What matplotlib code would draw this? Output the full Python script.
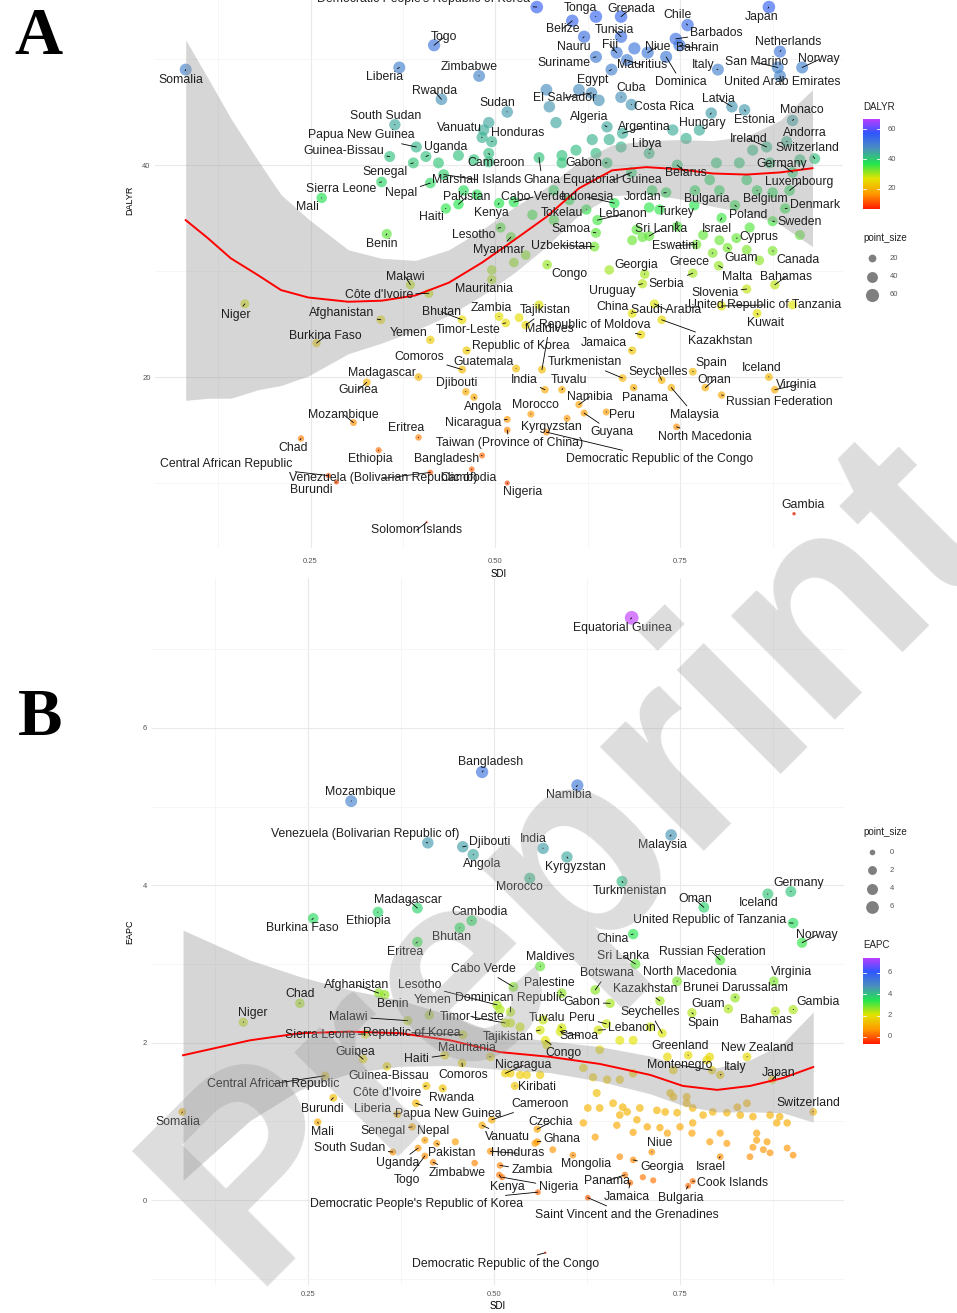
import numpy as np
import matplotlib
matplotlib.use("Agg")
import matplotlib.pyplot as plt
from matplotlib.colors import LinearSegmentedColormap, Normalize

plt.rcParams['font.family'] = ['Liberation Sans', 'DejaVu Sans']

W, H = 957, 1313

# ---------------- panel A: DALYR vs SDI ----------------
A_NAMES = [
    "Somalia", "Togo", "Liberia", "Zimbabwe", "Rwanda", "Sudan", "South Sudan", "Vanuatu", "Honduras", "Papua New Guinea",
    "Uganda", "Guinea-Bissau", "Senegal", "Cameroon", "Marshall Islands", "Nepal", "Sierra Leone", "Mali", "Pakistan", "Haiti",
    "Benin", "Kenya", "Lesotho", "Myanmar", "Malawi", "Côte d'Ivoire", "Niger", "Afghanistan", "Burkina Faso", "Bhutan",
    "Yemen", "Zambia", "Timor-Leste", "Mauritania", "Republic of Korea", "Comoros", "Guatemala", "Madagascar", "Guinea", "Djibouti",
    "Angola", "Mozambique", "Eritrea", "Nicaragua", "Taiwan (Province of China)", "Chad", "Ethiopia", "Bangladesh",
    "Central African Republic", "Venezuela (Bolivarian Republic of)",
    "Cambodia", "Burundi", "Solomon Islands", "Nigeria", "Gambia", "Congo", "Georgia", "Uruguay", "Serbia", "Greece",
    "Malta", "Bahamas", "Slovenia", "China", "Saudi Arabia", "United Republic of Tanzania", "Kuwait", "Republic of Moldova",
    "Kazakhstan", "Tajikistan",
    "Maldives", "Jamaica", "Turkmenistan", "India", "Tuvalu", "Namibia", "Morocco", "Panama", "Seychelles", "Malaysia",
    "Spain", "Oman", "Iceland", "Virginia", "Russian Federation", "Peru", "Guyana", "Kyrgyzstan", "North Macedonia",
    "Democratic Republic of the Congo",
    "Democratic People's Republic of Korea", "Tonga", "Grenada", "Chile", "Japan", "Belize", "Tunisia", "Barbados", "Bahrain", "Nauru",
    "Fiji", "Niue", "Netherlands", "Suriname", "Egypt", "Mauritius", "Dominica", "Italy", "San Marino", "Norway",
    "United Arab Emirates", "Cuba", "El Salvador", "Costa Rica", "Latvia", "Estonia", "Monaco", "Hungary", "Algeria", "Argentina",
    "Andorra", "Ireland", "Switzerland", "Libya", "Gabon", "Germany", "Belarus", "Ghana", "Equatorial Guinea", "Luxembourg",
    "Cabo Verde", "Indonesia", "Jordan", "Bulgaria", "Belgium", "Denmark", "Poland", "Sweden", "Tokelau", "Lebanon",
    "Turkey", "Samoa", "Sri Lanka", "Israel", "Cyprus", "Eswatini", "Uzbekistan", "Guam", "Canada",
]
A_SDI = [
    0.081, 0.417, 0.370, 0.478, 0.427, 0.516, 0.364, 0.482, 0.495, 0.393,
    0.406, 0.357, 0.389, 0.491, 0.430, 0.412, 0.346, 0.265, 0.450, 0.433,
    0.353, 0.505, 0.507, 0.521, 0.385, 0.410, 0.161, 0.345, 0.258, 0.455,
    0.412, 0.505, 0.514, 0.495, 0.461, 0.455, 0.528, 0.396, 0.326, 0.460,
    0.471, 0.308, 0.396, 0.516, 0.516, 0.237, 0.342, 0.482, 0.274, 0.412,
    0.468, 0.285, 0.407, 0.516, 0.904, 0.570, 0.702, 0.699, 0.767, 0.794,
    0.802, 0.878, 0.840, 0.685, 0.715, 0.806, 0.854, 0.697, 0.725, 0.541,
    0.563, 0.685, 0.672, 0.567, 0.590, 0.613, 0.548, 0.687, 0.725, 0.738,
    0.767, 0.784, 0.870, 0.878, 0.806, 0.650, 0.620, 0.597, 0.745, 0.569,
    0.556, 0.636, 0.670, 0.760, 0.870, 0.604, 0.670, 0.744, 0.749, 0.620,
    0.664, 0.706, 0.885, 0.636, 0.657, 0.678, 0.731, 0.801, 0.882, 0.915,
    0.885, 0.670, 0.630, 0.684, 0.820, 0.837, 0.902, 0.792, 0.651, 0.672,
    0.894, 0.867, 0.932, 0.708, 0.651, 0.902, 0.746, 0.559, 0.684, 0.898,
    0.525, 0.661, 0.731, 0.770, 0.854, 0.892, 0.824, 0.875, 0.623, 0.638,
    0.746, 0.636, 0.708, 0.806, 0.826, 0.772, 0.634, 0.814, 0.875,
]
A_DALYR = [
    49.0, 51.3, 49.2, 48.4, 46.2, 45.0, 43.8, 42.6, 42.2, 41.7,
    40.8, 40.8, 40.2, 41.1, 39.1, 38.3, 38.4, 36.9, 36.3, 35.9,
    33.5, 36.4, 34.1, 33.2, 28.7, 27.9, 26.9, 25.4, 23.2, 25.4,
    23.5, 25.7, 25.1, 29.2, 22.5, 20.7, 20.8, 20.0, 19.5, 18.6,
    18.1, 15.7, 14.3, 16.0, 15.0, 14.2, 13.1, 12.6, 10.7, 11.0,
    11.3, 10.1, 6.3, 10.0, 7.1, 30.6, 29.7, 28.8, 29.8, 31.7,
    30.5, 28.7, 28.3, 26.0, 26.9, 26.7, 26.0, 24.0, 25.4, 24.9,
    20.7, 22.5, 19.9, 18.8, 18.8, 17.4, 16.5, 19.0, 19.7, 19.0,
    20.5, 19.0, 20.0, 18.8, 18.3, 16.7, 16.6, 16.1, 15.3, 14.8,
    54.9, 54.0, 54.0, 53.2, 54.9, 53.6, 52.1, 51.9, 51.3, 52.1,
    50.6, 50.6, 50.7, 50.2, 49.0, 49.9, 50.2, 49.0, 49.2, 49.2,
    48.4, 46.4, 46.8, 45.7, 45.5, 45.2, 44.2, 44.9, 43.6, 43.0,
    42.2, 41.7, 40.6, 41.1, 40.2, 39.3, 40.0, 40.7, 39.3, 37.6,
    36.5, 36.4, 37.4, 37.6, 37.6, 35.9, 36.2, 34.7, 35.8, 34.8,
    34.2, 33.6, 33.3, 35.0, 33.1, 32.5, 32.3, 32.2, 31.9,
]
# unlabelled countries
A_OTHER_SDI = [
    0.491, 0.484, 0.573, 0.582, 0.569, 0.613, 0.640, 0.688, 0.902, 0.590,
    0.609, 0.631, 0.636, 0.590, 0.654, 0.670, 0.740, 0.758, 0.776, 0.799,
    0.830, 0.848, 0.871, 0.912, 0.790, 0.803, 0.840, 0.875, 0.708, 0.722,
    0.691, 0.699, 0.685, 0.803, 0.840, 0.495, 0.541, 0.525, 0.532, 0.559,
    0.450, 0.471, 0.491, 0.423, 0.457, 0.475, 0.579, 0.600, 0.550, 0.579,
    0.712, 0.769, 0.781, 0.844, 0.912, 0.857, 0.654,
]
A_OTHER_DALYR = [
    44.0, 43.3, 45.5, 44.0, 47.1, 47.1, 46.1, 51.0, 26.8, 40.9,
    41.4, 42.4, 41.1, 40.2, 42.4, 41.7, 43.3, 42.5, 43.3, 40.2,
    40.2, 41.4, 40.2, 40.5, 38.6, 37.6, 38.6, 37.4, 36.0, 35.8,
    33.9, 33.2, 32.9, 32.9, 32.0, 30.1, 31.5, 30.8, 25.6, 26.8,
    40.9, 40.5, 40.3, 40.2, 37.6, 37.2, 37.6, 36.7, 35.3, 34.8,
    37.6, 36.2, 33.4, 34.1, 33.4, 31.0, 30.1,
]
# loess fit
A_FIT_SDI = [0.081, 0.111, 0.142, 0.179, 0.210, 0.247, 0.301, 0.346, 0.392, 0.437, 0.482,
             0.525, 0.569, 0.613, 0.658, 0.704, 0.749, 0.794, 0.840, 0.885, 0.929]
A_FIT = [34.8, 33.1, 31.2, 29.6, 28.2, 27.5, 27.1, 27.2, 27.7, 28.9, 30.8,
         32.9, 35.1, 37.8, 39.5, 39.8, 39.6, 39.2, 39.1, 39.3, 39.7]
A_FIT_LO = [17.8, 18.0, 18.0, 18.8, 19.2, 20.1, 22.2, 23.2, 24.4, 25.8, 27.7,
            29.8, 32.3, 35.3, 37.1, 37.3, 36.8, 36.1, 35.5, 34.4, 32.3]
A_FIT_HI = [51.8, 48.2, 44.4, 40.4, 37.2, 34.9, 32.0, 31.2, 31.0, 32.0, 33.9,
            36.0, 37.9, 40.3, 41.9, 42.3, 42.4, 42.3, 42.7, 44.2, 47.1]

# ---------------- panel B: EAPC vs SDI ----------------
B_NAMES = [
    "Equatorial Guinea", "Bangladesh", "Mozambique", "Namibia", "Venezuela (Bolivarian Republic of)", "Djibouti", "Angola",
    "India", "Kyrgyzstan", "Malaysia",
    "Morocco", "Turkmenistan", "Madagascar", "Ethiopia", "Burkina Faso", "Cambodia", "Bhutan", "Eritrea", "Oman", "Iceland",
    "Germany", "United Republic of Tanzania", "Norway", "China", "Maldives", "Sri Lanka", "Russian Federation", "Cabo Verde",
    "North Macedonia", "Virginia",
    "Botswana", "Palestine", "Kazakhstan", "Brunei Darussalam", "Gambia", "Lesotho", "Dominican Republic", "Gabon", "Guam", "Seychelles",
    "Spain", "Bahamas", "Tuvalu", "Peru", "Lebanon", "Samoa", "Tajikistan", "Congo", "Greenland", "New Zealand",
    "Montenegro", "Italy", "Japan", "Switzerland", "Nicaragua", "Kiribati", "Cameroon", "Vanuatu", "Czechia", "Ghana",
    "Niue", "Mongolia", "Georgia", "Israel", "Panama", "Cook Islands", "Jamaica", "Bulgaria", "Saint Vincent and the Grenadines",
    "Democratic Republic of the Congo",
    "Zambia", "Nigeria", "Kenya", "Democratic People's Republic of Korea", "Honduras", "Uganda", "Togo", "Zimbabwe", "Pakistan", "Nepal",
    "Senegal", "Mali", "South Sudan", "Burundi", "Liberia", "Papua New Guinea", "Côte d'Ivoire", "Rwanda", "Guinea-Bissau", "Comoros",
    "Haiti", "Mauritania", "Guinea", "Central African Republic", "Somalia", "Niger", "Chad", "Afghanistan", "Benin", "Yemen",
    "Timor-Leste", "Malawi", "Sierra Leone", "Republic of Korea",
]
B_SDI = [
    0.685, 0.484, 0.308, 0.612, 0.411, 0.458, 0.472, 0.566, 0.598, 0.738,
    0.548, 0.672, 0.397, 0.344, 0.257, 0.470, 0.454, 0.397, 0.782, 0.868,
    0.899, 0.902, 0.914, 0.687, 0.562, 0.690, 0.804, 0.526, 0.746, 0.876,
    0.636, 0.591, 0.723, 0.824, 0.902, 0.504, 0.522, 0.656, 0.815, 0.726,
    0.766, 0.878, 0.591, 0.651, 0.640, 0.589, 0.562, 0.569, 0.761, 0.840,
    0.793, 0.804, 0.874, 0.929, 0.515, 0.528, 0.497, 0.484, 0.558, 0.558,
    0.712, 0.606, 0.687, 0.804, 0.676, 0.767, 0.683, 0.761, 0.626, 0.569,
    0.508, 0.511, 0.507, 0.559, 0.495, 0.398, 0.407, 0.418, 0.423, 0.407,
    0.390, 0.263, 0.364, 0.284, 0.370, 0.395, 0.409, 0.431, 0.356, 0.457,
    0.434, 0.495, 0.324, 0.273, 0.081, 0.163, 0.239, 0.345, 0.353, 0.413,
    0.515, 0.384, 0.327, 0.458,
]
B_EAPC = [
    7.40, 5.44, 5.07, 5.27, 4.54, 4.49, 4.39, 4.47, 4.36, 4.64,
    4.09, 4.05, 3.71, 3.66, 3.58, 3.55, 3.46, 3.28, 3.72, 3.89,
    3.92, 3.52, 3.27, 3.38, 2.97, 3.00, 3.05, 2.71, 2.78, 2.78,
    2.67, 2.63, 2.53, 2.57, 2.42, 2.48, 2.39, 2.50, 2.43, 2.12,
    2.38, 2.40, 2.19, 2.24, 2.16, 2.14, 2.16, 2.03, 1.84, 1.82,
    1.65, 1.59, 1.53, 1.12, 1.61, 1.45, 1.02, 0.95, 0.90, 0.74,
    0.61, 0.57, 0.51, 0.55, 0.32, 0.24, 0.22, 0.18, 0.03, -0.67,
    0.44, 0.29, 0.32, 0.10, 0.62, 0.66, 0.56, 0.48, 0.72, 0.76,
    0.93, 0.99, 0.61, 1.30, 1.09, 1.23, 1.45, 1.42, 1.70, 1.74,
    1.84, 1.82, 1.79, 1.58, 1.12, 2.26, 2.50, 2.63, 2.61, 2.35,
    2.25, 2.28, 2.11, 2.10,
]
B_OTHER_SDI = [
    0.638, 0.626, 0.642, 0.660, 0.673, 0.679, 0.669, 0.696, 0.719, 0.730,
    0.746, 0.620, 0.665, 0.692, 0.706, 0.723, 0.687, 0.733, 0.750, 0.767,
    0.781, 0.794, 0.813, 0.831, 0.848, 0.871, 0.884, 0.894, 0.880, 0.853,
    0.804, 0.813, 0.790, 0.853, 0.867, 0.848, 0.862, 0.871, 0.894, 0.902,
    0.844, 0.636, 0.579, 0.669, 0.700, 0.714, 0.766, 0.767, 0.741, 0.759,
    0.840, 0.827,
    0.522, 0.535, 0.562, 0.620, 0.633, 0.652, 0.669, 0.687, 0.642, 0.669,
    0.687, 0.710, 0.741, 0.733, 0.790, 0.737, 0.759, 0.786, 0.522, 0.535,
    0.508, 0.544, 0.571, 0.566, 0.448, 0.474, 0.555,
]
B_OTHER_EAPC = [
    1.36, 1.17, 1.17, 1.23, 1.18, 1.12, 1.08, 1.17, 1.14, 1.12,
    1.11, 0.98, 0.95, 1.02, 0.93, 0.92, 0.86, 0.85, 0.93, 0.98,
    1.08, 1.12, 1.11, 1.08, 1.06, 1.08, 1.06, 0.98, 0.98, 0.85,
    0.85, 0.72, 0.74, 0.76, 0.74, 0.67, 0.64, 0.60, 0.66, 0.57,
    0.55, 0.80, 0.64, 0.55, 0.29, 0.25, 0.85, 1.17, 1.31, 1.23,
    1.23, 1.18,
    1.61, 1.59, 1.59, 1.68, 1.56, 1.53, 1.53, 1.61, 1.91, 2.03,
    2.03, 2.20, 1.65, 1.82, 1.82, 1.36, 1.31, 1.78, 2.25, 2.20,
    2.42, 1.59, 1.97, 2.29, 0.74, 0.47, 0.72,
]
B_FIT_SDI = [0.082, 0.172, 0.239, 0.306, 0.374, 0.441, 0.508, 0.575, 0.642, 0.710,
             0.754, 0.800, 0.844, 0.888, 0.929]
B_FIT = [1.84, 2.03, 2.12, 2.14, 2.12, 2.03, 1.88, 1.82, 1.73, 1.59, 1.45, 1.40, 1.45, 1.55, 1.69]
B_FIT_LO = [0.25, 1.01, 1.40, 1.61, 1.70, 1.71, 1.66, 1.62, 1.51, 1.35, 1.20, 1.12, 1.12, 1.11, 0.99]
B_FIT_HI = [3.43, 3.05, 2.84, 2.67, 2.54, 2.35, 2.10, 2.02, 1.95, 1.83, 1.70, 1.68, 1.78, 1.99, 2.39]

# label placement (pixel offset of label centre from its point, y downwards)
A_LABEL_POS = [
    (-5, 10), (10, -8), (-15, 10), (-10, -9), (-7, -8), (-10, -9), (-9, -9), (-23, -9), (26, -9), (-55, -12),
    (20, -10), (-46, -6), (-28, 9), (7, 10), (33, 5), (-29, 10), (-40, 7), (-14, 9), (8, -7), (-14, 9),
    (-5, 10), (-8, 10), (-27, 7), (-12, 13), (-5, -8), (-50, 2), (-9, 11), (-39, -7), (9, -7), (-21, -8),
    (-22, -7), (-8, -9), (-38, 7), (-8, 10), (54, -5), (-43, -13), (-33, -7), (-37, -4), (-9, 8), (-9, -9),
    (9, 10), (-10, -8), (-12, -9), (-34, 4), (2, 13), (-8, 10), (-8, 9), (-36, 4), (-102, -12), (-47, 6),
    (-3, 9), (-25, 8), (-10, 8), (15, 9), (9, -9), (22, 9), (-8, -9), (-30, 7), (-26, 11), (-23, 9),
    (19, 11), (11, -8), (-32, 4), (-20, -6), (12, 6), (43, -1), (8, 10), (-46, -10), (58, 21), (20, -15),
    (7, -41), (-28, -8), (-38, -16), (-21, -10), (7, -10), (11, -8), (5, -9), (11, 10), (-4, -8), (23, 27),
    (19, -9), (9, -8), (-7, -9), (22, -5), (58, 7), (16, 3), (28, 19), (-16, 9), (28, 10), (113, 27),
    (-113, -8), (-15, -9), (10, -8), (-10, -10), (-7, 10), (-10, 8), (-7, -7), (41, -6), (18, 3), (-10, 10),
    (-7, -8), (10, -6), (8, -10), (-32, 6), (-19, 10), (15, 5), (15, 25), (-15, -5), (-21, -5), (17, -8),
    (2, 6), (10, -9), (-27, 5), (33, 2), (-13, -8), (10, 10), (9, -10), (-9, 10), (-18, -10), (22, -6),
    (18, -9), (-18, -8), (-7, -11), (-2, -9), (-23, 0), (-11, -8), (9, 8), (3, 22), (-19, 8), (10, -8),
    (19, -5), (-27, -6), (-24, 4), (12, 9), (8, 9), (30, -3), (13, 10), (27, 1), (-24, 3), (25, -6),
    (-1, -14), (-25, -4), (12, -7), (-5, 11), (23, -1), (-21, 1), (-33, -1), (14, 10), (25, 9),
]
B_LABEL_POS = [
    (-9, 10), (8, -10), (9, -9), (-9, 10), (-63, -9), (27, -5), (9, 9), (-10, -9), (8, 10), (-9, 10),
    (-10, 9), (8, 10), (-9, -8), (-10, 9), (-11, 10), (8, -9), (-8, 9), (-12, 10), (-9, -8), (-9, 9),
    (8, -9), (-83, -3), (15, -8), (-21, 5), (10, -9), (-12, -8), (-8, -8), (-30, -18), (13, -9), (18, -9),
    (12, -17), (-12, -10), (-15, -12), (0, -10), (25, -8), (-77, -20), (0, -14), (-28, -1), (-20, -5), (-12, -21),
    (11, 10), (-9, 9), (-15, -10), (-24, -6), (34, -2), (19, 4), (-32, 7), (18, 13), (-8, -9), (10, -9),
    (-32, -5), (15, -8), (6, -7), (-5, -9), (18, -8), (22, 1), (48, -16), (25, 12), (13, -7), (25, -3),
    (8, -9), (13, 9), (29, 7), (-9, 10), (-18, 6), (40, 2), (-3, 14), (-7, 12), (39, 17), (-40, 11),
    (32, 5), (56, 10), (8, 12), (-121, 12), (27, 2), (-20, 15), (-18, 24), (24, 11), (15, 10), (8, -9),
    (-29, 4), (5, 10), (-43, -4), (-11, 11), (-25, -5), (32, 11), (-39, 7), (9, 10), (2, 10), (1, 12),
    (-28, 4), (-23, -9), (-8, -7), (-52, 8), (-4, 10), (9, -9), (0, -9), (-22, -8), (8, 9), (3, -15),
    (-33, -6), (-59, -4), (-45, 1), (-51, -2),
]

CMAP = LinearSegmentedColormap.from_list(
    "rainbowish", ["#ff1a00", "#ff9a00", "#e4e400", "#22e650", "#4a8fbd", "#3057ff", "#c43cff"])
A_RANGE = (6.3, 66.7)
B_RANGE = (-0.67, 7.45)


def point_area(v, vmin, vmax):
    frac = np.clip((np.asarray(v, float) - vmin) / (vmax - vmin), 0, 1)
    d_px = 2.3 * (1 + 5 * np.sqrt(frac))
    return (d_px * 0.72) ** 2


def draw_panel(ax, names, xs, ys, label_pos, ox, oy, fx, fit, lo, hi, vrange,
               ylim, ymajor, ygrid, yminor, ylabel, xlab_y, ylab_x, xpad):
    ax.set_xlim(0.04, 0.97)
    ax.set_ylim(*ylim)
    for s in ax.spines.values():
        s.set_visible(False)
    for v in [0.125, 0.375, 0.625, 0.875]:
        ax.axvline(v, color="#f3f3f3", lw=0.5, zorder=0)
    for v in [0.25, 0.5, 0.75]:
        ax.axvline(v, color="#e9e9e9", lw=0.8, zorder=0)
    for v in yminor:
        ax.axhline(v, color="#f3f3f3", lw=0.5, zorder=0)
    for v in ygrid:
        ax.axhline(v, color="#e9e9e9", lw=0.8, zorder=0)
    ax.set_xticks([0.25, 0.5, 0.75])
    ax.set_xticklabels(["0.25", "0.50", "0.75"])
    ax.set_yticks(ymajor)
    ax.set_yticklabels([str(v) for v in ymajor])
    ax.tick_params(axis="both", length=0, labelsize=5.5, labelcolor="#555555")
    ax.tick_params(axis="x", pad=xpad)
    ax.tick_params(axis="y", pad=3.5)

    all_x = np.r_[ox, xs]
    all_y = np.r_[oy, ys]
    ax.scatter(all_x, all_y, s=point_area(all_y, *vrange), c=all_y, cmap=CMAP,
               norm=Normalize(*vrange), alpha=0.65, linewidths=0, zorder=2)
    ax.fill_between(fx, lo, hi, color="#999999", alpha=0.4, lw=0, zorder=3)
    ax.plot(fx, fit, color="red", lw=1.4, zorder=4)

    for name, x, y, (dx, dy) in zip(names, xs, ys, label_pos):
        ax.annotate(name, (x, y), xytext=(dx * 0.72, -dy * 0.72), textcoords="offset points",
                    ha="center", va="center", fontsize=8.8, color="#1e1e1e", zorder=5,
                    annotation_clip=False,
                    arrowprops=dict(arrowstyle="-", color="black", lw=0.6, shrinkA=0, shrinkB=0))

    ax.set_xlabel("SDI", fontsize=7)
    ax.xaxis.set_label_coords(0.5, xlab_y)
    ax.xaxis.label.set_va("center")
    ax.set_ylabel(ylabel, fontsize=6.5)
    ax.yaxis.set_label_coords(ylab_x, 0.5)
    ax.yaxis.label.set_va("center")


fig = plt.figure(figsize=(W / 100, H / 100), dpi=100)

# panel A (top of the panel runs past the top edge of the figure)
axA = fig.add_axes([155.4 / W, 1 - 548 / H, 687.4 / W, 695.7 / H])
draw_panel(axA, A_NAMES, A_SDI, A_DALYR, A_LABEL_POS, A_OTHER_SDI, A_OTHER_DALYR,
           A_FIT_SDI, A_FIT, A_FIT_LO, A_FIT_HI, A_RANGE,
           (3.87, 69.5), [20, 40], [20, 40, 60], [10, 30, 50], "DALYR",
           (548 - 574) / 695.7, (130 - 155.4) / 687.4, 7)

axB = fig.add_axes([151.8 / W, 1 - 1285 / H, 691.9 / W, 707 / H])
draw_panel(axB, B_NAMES, B_SDI, B_EAPC, B_LABEL_POS, B_OTHER_SDI, B_OTHER_EAPC,
           B_FIT_SDI, B_FIT, B_FIT_LO, B_FIT_HI, B_RANGE,
           (-1.08, 7.906), [0, 2, 4, 6], [0, 2, 4, 6], [-1, 1, 3, 5, 7], "EAPC",
           (1285 - 1306) / 707, (130 - 151.8) / 691.9, 4.5)

# legends drawn in pixel coordinates
lg = fig.add_axes([0, 0, 1, 1])
lg.set_xlim(0, W)
lg.set_ylim(H, 0)
lg.set_axis_off()
lg.patch.set_alpha(0)


def colorbar(top, bottom, vrange, ticks, title):
    cax = fig.add_axes([863 / W, 1 - bottom / H, 17 / W, (bottom - top) / H])
    grad = np.linspace(vrange[0], vrange[1], 256).reshape(-1, 1)
    cax.imshow(grad, aspect="auto", cmap=CMAP, norm=Normalize(*vrange), origin="lower",
               extent=(0, 1, vrange[0], vrange[1]))
    cax.set_axis_off()
    for t in ticks:
        cax.plot([0, 0.2], [t, t], color="white", lw=0.6)
        cax.plot([0.8, 1], [t, t], color="white", lw=0.6)
        cax.text(1.45, t, str(t), transform=cax.get_yaxis_transform(), fontsize=5.5,
                 color="#555555", ha="left", va="center")
    lg.text(863, top - 12, title, fontsize=7, color="#222222", ha="left", va="center")


def size_legend(top, values, vrange, gap):
    lg.text(863, top, "point_size", fontsize=7, color="#222222", ha="left", va="center")
    for i, v in enumerate(values):
        y = top + 20 + i * gap
        lg.scatter([872], [y], s=point_area(v, *vrange), color="black", alpha=0.5, linewidths=0)
        lg.text(890, y, str(v), fontsize=5.5, color="#555555", ha="left", va="center")


colorbar(119, 209.5, A_RANGE, [20, 40, 60], "DALYR")
size_legend(238, [20, 40, 60], A_RANGE, 18.5)
size_legend(832, [0, 2, 4, 6], B_RANGE, 18.3)
colorbar(957.5, 1044, B_RANGE, [0, 2, 4, 6], "EAPC")

fig.text(38 / W, 1 - 38 / H, "A", fontsize=48, family="Liberation Serif", weight="bold",
         ha="center", va="center")
fig.text(40 / W, 1 - 718 / H, "B", fontsize=48, family="Liberation Serif", weight="bold",
         ha="center", va="center")

fig.text(575 / W, 1 - 860 / H, "Preprint", rotation=45, rotation_mode="anchor", fontsize=200,
         weight="bold", color="#999999", alpha=0.33, ha="center", va="center", zorder=20)

fig.savefig("out.png", dpi=100)
